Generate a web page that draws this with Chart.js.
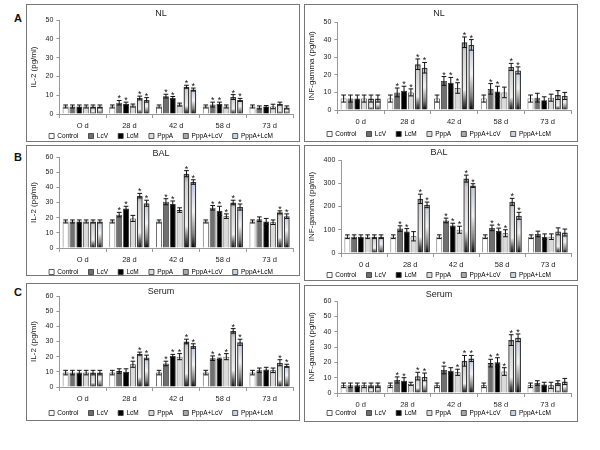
<!DOCTYPE html>
<html>
<head>
<meta charset="utf-8">
<script src="https://cdn.jsdelivr.net/npm/chart.js@4.4.0/dist/chart.umd.min.js"></script>
<style>
  body { margin: 0; width: 600px; height: 450px; background: #fff; position: relative; overflow: hidden;
         font-family: "Liberation Sans", Arial, sans-serif; }
  .box { position: absolute; border: 1px solid #777; box-sizing: border-box; }
  .box canvas { display: block; }
  .lbl { position: absolute; font-weight: bold; font-size: 11px; color: #111; }
</style>
</head>
<body>
<div class="lbl" style="left:14px;top:12px">A</div>
<div class="lbl" style="left:14px;top:151px">B</div>
<div class="lbl" style="left:14px;top:286px">C</div>

<script>
// ================= DATA =================
const SERIES = ["Control", "LcV", "LcM", "PppA", "PppA+LcV", "PppA+LcM"];
const DAYS_L = ["O d", "28 d", "42 d", "58 d", "73 d"];
const DAYS_R = ["0 d", "28 d", "42 d", "58 d", "73 d"];

// rows = series (Control, LcV, LcM, PppA, PppA+LcV, PppA+LcM), columns = days
const NL_IL2_MEAN = [
  [4, 4, 4, 4, 4],
  [4, 6, 9.5, 5, 3.5],
  [4, 5.5, 8.5, 5.5, 4],
  [4, 4.5, 5, 4, 4],
  [4, 8.5, 14.5, 9, 5.5],
  [4, 7.5, 13, 7.5, 3.5]
];
const NL_IL2_ERR = [
  [0.8, 0.8, 0.8, 0.8, 0.8],
  [0.8, 1.2, 1, 1.3, 0.8],
  [0.8, 0.8, 0.8, 0.8, 0.5],
  [0.8, 0.8, 0.8, 0.8, 1.2],
  [0.8, 1, 0.8, 1.3, 0.8],
  [0.8, 1.2, 0.8, 0.8, 0.8]
];
const NL_IL2_STAR = [
  [0, 0, 0, 0, 0], [0, 1, 1, 1, 0], [0, 1, 1, 1, 0],
  [0, 0, 0, 0, 0], [0, 1, 1, 1, 0], [0, 1, 1, 1, 0]
];

const NL_IFN_MEAN = [
  [6.5, 6.5, 6.5, 6.5, 6.5],
  [6.5, 10, 16.5, 12, 7],
  [6.5, 11, 15.5, 10.5, 5.5],
  [6.5, 10, 12.5, 10, 7],
  [6.5, 26, 38.5, 24.5, 8.5],
  [6.5, 24, 37, 22.5, 8]
];
const NL_IFN_ERR = [
  [2, 2, 2, 2, 2],
  [2, 2.5, 2.5, 3, 2.5],
  [2, 2.5, 3, 3, 2],
  [2, 2, 3, 3, 2],
  [2, 3, 3, 2, 2.5],
  [2, 3, 3, 2, 2]
];
const NL_IFN_STAR = [
  [0, 0, 0, 0, 0], [0, 1, 1, 1, 0], [0, 1, 1, 1, 0],
  [0, 1, 1, 0, 0], [0, 1, 1, 1, 0], [0, 1, 1, 1, 0]
];

const BAL_IL2_MEAN = [
  [17.5, 17.5, 17.5, 17.5, 17.5],
  [17.5, 22, 30.5, 26.5, 19],
  [17.5, 26, 29, 24.5, 17.5],
  [17.5, 19.5, 25, 21, 17],
  [17.5, 34.5, 49, 30, 23.5],
  [17.5, 29.5, 43.5, 27, 21]
];
const BAL_IL2_ERR = [
  [1, 1, 1, 1, 1],
  [1, 1.5, 2, 1.5, 1.5],
  [1, 1.5, 2, 3, 2],
  [1, 2, 1.5, 1.5, 1.5],
  [1, 1.5, 2, 1.5, 1],
  [1, 2, 1.5, 2, 1.5]
];
const BAL_IL2_STAR = [
  [0, 0, 0, 0, 0], [0, 1, 1, 1, 0], [0, 1, 1, 1, 0],
  [0, 0, 0, 1, 0], [0, 1, 1, 1, 1], [0, 1, 1, 1, 1]
];

const BAL_IFN_MEAN = [
  [70, 70, 70, 70, 70],
  [70, 105, 140, 108, 82],
  [70, 93, 118, 95, 70],
  [70, 72, 100, 85, 70],
  [70, 233, 320, 220, 93],
  [70, 207, 290, 160, 88]
];
const BAL_IFN_ERR = [
  [8, 8, 8, 8, 8],
  [8, 12, 10, 12, 12],
  [8, 12, 10, 12, 12],
  [8, 20, 15, 15, 12],
  [8, 20, 15, 15, 15],
  [8, 12, 8, 15, 15]
];
const BAL_IFN_STAR = [
  [0, 0, 0, 0, 0], [0, 1, 1, 1, 0], [0, 1, 1, 1, 0],
  [0, 0, 1, 1, 0], [0, 1, 1, 1, 0], [0, 1, 1, 1, 0]
];

const SER_IL2_MEAN = [
  [9.5, 9.5, 9.5, 9.5, 9.5],
  [9.5, 10.5, 15.5, 19, 11],
  [9.5, 10, 20.5, 18.5, 11.5],
  [9.5, 15, 20, 20, 11],
  [9.5, 22, 30, 37, 16],
  [9.5, 19.5, 27, 29.5, 14]
];
const SER_IL2_ERR = [
  [1.5, 1.5, 1.5, 1.5, 1.5],
  [1.5, 1.5, 1.5, 1.5, 1.5],
  [1.5, 2, 1, 0.5, 1.5],
  [1.5, 2, 2, 2, 1.5],
  [1.5, 1, 1.5, 1.5, 2],
  [1.5, 1.5, 1.5, 2, 1]
];
const SER_IL2_STAR = [
  [0, 0, 0, 0, 0], [0, 0, 1, 1, 0], [0, 0, 1, 1, 0],
  [0, 1, 1, 1, 0], [0, 1, 1, 1, 1], [0, 1, 1, 1, 1]
];

const SER_IFN_MEAN = [
  [5, 5, 5, 5, 5],
  [5, 8.5, 15, 19.5, 6.5],
  [5, 8, 14.5, 20, 5.5],
  [5, 6, 13.5, 14, 5],
  [5, 11, 21, 34.5, 6.5],
  [5, 10.5, 22.5, 36, 7.5]
];
const SER_IFN_ERR = [
  [1.5, 1.5, 1.5, 1.5, 1.5],
  [1.5, 2, 2.5, 2.5, 1.5],
  [1.5, 2, 2, 3, 1.5],
  [1.5, 1, 2, 2.5, 2],
  [1.5, 2.5, 3.5, 3.5, 1.5],
  [1.5, 2.5, 2, 2.5, 2]
];
const SER_IFN_STAR = [
  [0, 0, 0, 0, 0], [0, 1, 1, 1, 0], [0, 1, 0, 1, 0],
  [0, 0, 1, 1, 0], [0, 1, 1, 1, 0], [0, 1, 1, 1, 0]
];

// ================= STYLE =================
const FONT = "'Liberation Sans', Arial, sans-serif";
const LEGEND_FILL = ["#ffffff", "#6f6f6f", "#000000", "#dadada", "#a8a8a8", "#c9d3e6"];

// gradient fills for the combined groups (dark bottom, light top)
function barFill(i) {
  if (i < 4) return LEGEND_FILL[i];
  return (ctx) => {
    const chart = ctx.chart;
    if (!chart.chartArea || ctx.raw == null) return LEGEND_FILL[i];
    const y = chart.scales.y;
    const top = y.getPixelForValue(ctx.raw);
    const bot = y.getPixelForValue(0);
    if (!isFinite(top) || bot - top < 1) return LEGEND_FILL[i];
    const g = chart.ctx.createLinearGradient(0, top, 0, bot);
    if (i === 4) {
      g.addColorStop(0, "#8c8c8c");
      g.addColorStop(0.12, "#cfcfcf");
      g.addColorStop(0.7, "#efefef");
      g.addColorStop(0.88, "#5a5a5a");
      g.addColorStop(1, "#111");
    } else {
      g.addColorStop(0, "#b9c7e2");
      g.addColorStop(0.45, "#f3f3f3");
      g.addColorStop(0.8, "#7a7a7a");
      g.addColorStop(1, "#000");
    }
    return g;
  };
}

// ================= ERROR BARS + STARS =================
const errorBars = {
  id: "errorBars",
  afterDatasetsDraw(chart) {
    const c = chart.ctx;
    const y = chart.scales.y;
    c.save();
    chart.data.datasets.forEach((ds, i) => {
      const meta = chart.getDatasetMeta(i);
      meta.data.forEach((bar, j) => {
        const v = ds.data[j], e = ds.err[j];
        const yt = y.getPixelForValue(v + e);
        const yb = y.getPixelForValue(Math.max(0, v - e));
        const half = Math.max(2, bar.width * 0.4);
        c.strokeStyle = "#111";
        c.lineWidth = 1;
        c.beginPath();
        c.moveTo(bar.x, yt); c.lineTo(bar.x, yb);
        c.moveTo(bar.x - half, yt); c.lineTo(bar.x + half, yt);
        c.moveTo(bar.x - half, yb); c.lineTo(bar.x + half, yb);
        c.stroke();
        if (ds.star[j]) {
          c.fillStyle = "#111";
          c.font = "9px " + FONT;
          c.textAlign = "center";
          c.textBaseline = "alphabetic";
          c.fillText("*", bar.x, yt + 1);
        }
      });
    });
    c.restore();
  }
};

// ================= PANELS =================
// box = [left, top, width, height]; tp = title padding [top, bottom];
// bp = bottom layout padding; xh = height kept for the category axis
function makePanel(box, tp, bp, xh, title, yTitle, days, mean, err, star, yMax, yStep) {
  const div = document.createElement("div");
  div.className = "box";
  div.style.left = box[0] + "px";
  div.style.top = box[1] + "px";
  div.style.width = box[2] + "px";
  div.style.height = box[3] + "px";
  const cv = document.createElement("canvas");
  cv.width = box[2] - 2;
  cv.height = box[3] - 2;
  div.appendChild(cv);
  document.body.appendChild(div);

  new Chart(cv, {
    type: "bar",
    data: {
      labels: days,
      datasets: SERIES.map((name, i) => ({
        label: name,
        data: mean[i],
        err: err[i],
        star: star[i],
        backgroundColor: barFill(i),
        borderColor: i >= 4 ? "#3a3a3a" : "#222",
        borderWidth: i >= 4 ? 1.4 : 0.8,
        barPercentage: 0.86,
        categoryPercentage: 0.88
      }))
    },
    options: {
      responsive: false,
      animation: false,
      devicePixelRatio: 1,
      layout: { padding: { left: 2, right: 6, top: 0, bottom: bp } },
      plugins: {
        title: {
          display: true, text: title, color: "#222",
          font: { family: FONT, size: 9, weight: "normal" },
          padding: { top: tp[0], bottom: tp[1] }
        },
        legend: {
          position: "bottom",
          labels: {
            font: { family: FONT, size: 6.5 },
            color: "#222",
            boxWidth: 5, boxHeight: 5, padding: 3,
            generateLabels: () => SERIES.map((s, i) => ({
              text: i < SERIES.length - 1 ? s + "    " : s,
              fillStyle: LEGEND_FILL[i], strokeStyle: "#333",
              lineWidth: 0.8, datasetIndex: i
            }))
          }
        },
        tooltip: { enabled: false }
      },
      scales: {
        x: {
          grid: { drawOnChartArea: false, tickLength: 4, color: "#999", offset: true },
          border: { color: "#999" },
          ticks: { font: { family: FONT, size: 7.5 }, color: "#222", padding: 3 },
          afterFit: (s) => { s.height = xh; }
        },
        y: {
          min: 0, max: yMax,
          grid: { drawOnChartArea: false, tickLength: 3, color: "#999" },
          border: { color: "#999" },
          ticks: { stepSize: yStep, font: { family: FONT, size: 7 }, color: "#222", padding: 3 },
          title: { display: true, text: yTitle, color: "#222",
                   font: { family: FONT, size: 8 }, padding: { top: 0, bottom: 4 } }
        }
      }
    },
    plugins: [errorBars]
  });
}

makePanel([26, 4, 274, 138], [3.6, 0.6], -8.25, 15.75, "NL", "IL-2 (pg/ml)", DAYS_L, NL_IL2_MEAN, NL_IL2_ERR, NL_IL2_STAR, 50, 10);
makePanel([304, 4, 274, 138], [3.6, 2.6], -6.25, 17.75, "NL", "INF-gamma (pg/ml)", DAYS_R, NL_IFN_MEAN, NL_IFN_ERR, NL_IFN_STAR, 50, 10);
makePanel([26, 145, 274, 131], [2.6, -2.4], -10.25, 17.75, "BAL", "IL-2 (pg/ml)", DAYS_L, BAL_IL2_MEAN, BAL_IL2_ERR, BAL_IL2_STAR, 60, 10);
makePanel([304, 145, 274, 136], [1.6, 1.6], -8.25, 15.75, "BAL", "INF-gamma (pg/ml)", DAYS_R, BAL_IFN_MEAN, BAL_IFN_ERR, BAL_IFN_STAR, 400, 100);
makePanel([26, 283, 274, 138], [2.6, -1.4], -6.25, 19.75, "Serum", "IL-2 (pg/ml)", DAYS_L, SER_IL2_MEAN, SER_IL2_ERR, SER_IL2_STAR, 60, 10);
makePanel([304, 285, 274, 137], [3.6, 0.6], -5.25, 13.75, "Serum", "INF-gamma (pg/ml)", DAYS_R, SER_IFN_MEAN, SER_IFN_ERR, SER_IFN_STAR, 60, 10);
</script>
</body>
</html>
